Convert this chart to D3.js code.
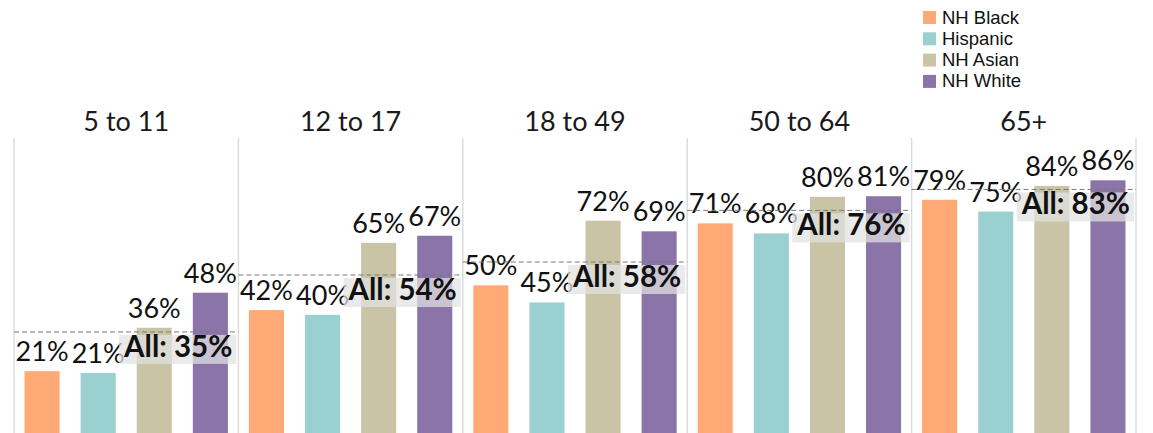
<!DOCTYPE html>
<html>
<head>
<meta charset="utf-8">
<script src="https://cdn.jsdelivr.net/npm/d3@7"></script>
<style>
  body { margin: 0; background: #fff; }
  svg { display: block; }
</style>
</head>
<body>
<script>
// data
const ageGroups = ["5 to 11", "12 to 17", "18 to 49", "50 to 64", "65+"];
const races = ["NH Black", "Hispanic", "NH Asian", "NH White"];
const nhBlack  = [21.3, 42.0, 50.4, 71.4, 79.4];
const hispanic = [20.7, 40.4, 44.6, 68.0, 75.4];
const nhAsian  = [36.0, 64.8, 72.3, 80.4, 84.1];
const nhWhite  = [47.9, 67.2, 68.7, 80.6, 86.0];
const allRates = [34.6, 53.9, 58.3, 75.8, 82.9];
const colors = ["#FFA976", "#9AD0D0", "#C9C4A6", "#8A74A8"];

const series = [nhBlack, hispanic, nhAsian, nhWhite];

const width = 1153, height = 433;

const svg = d3.select("body").append("svg")
    .attr("width", width)
    .attr("height", height);

// scales
const x0 = d3.scaleBand().domain(ageGroups).range([14, 1136]).padding(0);
const x1 = d3.scaleBand().domain(races).range([0, x0.bandwidth()])
    .paddingInner(0.375).paddingOuter(0.1875);
const y = d3.scaleLinear().domain([0, 100]).range([434, 139]);
const color = d3.scaleOrdinal().domain(races).range(colors);

// panel dividers
const dividers = ageGroups.map(g => x0(g)).concat([x0.range()[1]]);
svg.append("g").selectAll("line")
    .data(dividers)
    .enter().append("line")
    .attr("x1", d => d).attr("x2", d => d)
    .attr("y1", 138).attr("y2", height)
    .attr("stroke", "#dcdcdc")
    .attr("stroke-width", 1.5);

// panel titles
svg.append("g").selectAll("text")
    .data(ageGroups)
    .enter().append("text")
    .attr("x", d => x0(d) + x0.bandwidth() / 2)
    .attr("y", 131)
    .attr("text-anchor", "middle")
    .style("font-family", "Lato, 'Open Sans', sans-serif")
    .style("font-size", "27px")
    .attr("fill", "#1a1a1a")
    .text(d => d);

const panels = svg.append("g").selectAll("g")
    .data(ageGroups)
    .enter().append("g")
    .attr("transform", d => `translate(${x0(d)},0)`);

// bars
panels.selectAll("rect.bar")
    .data((g, i) => races.map((r, j) => ({ race: r, value: series[j][i] })))
    .enter().append("rect")
    .attr("class", "bar")
    .attr("x", d => x1(d.race))
    .attr("width", x1.bandwidth())
    .attr("y", d => y(d.value))
    .attr("height", d => y(0) - y(d.value))
    .attr("fill", d => color(d.race));

// value labels
panels.selectAll("text.val")
    .data((g, i) => races.map((r, j) => ({ race: r, value: series[j][i] })))
    .enter().append("text")
    .attr("class", "val")
    .attr("x", d => x1(d.race) + x1.bandwidth() / 2)
    .attr("y", d => y(d.value) - 10)
    .attr("text-anchor", "middle")
    .style("font-family", "Lato, 'Open Sans', sans-serif")
    .style("font-size", "27px")
    .attr("fill", "#111")
    .text(d => Math.round(d.value) + "%");

// average reference line
panels.append("line")
    .attr("x1", 0).attr("x2", x0.bandwidth())
    .attr("y1", (g, i) => y(allRates[i]))
    .attr("y2", (g, i) => y(allRates[i]))
    .attr("stroke", "#7a7a7a")
    .attr("stroke-width", 1)
    .attr("stroke-dasharray", "5,3");

// "All" label with shaded box
panels.each(function(g, i) {
    const p = d3.select(this);
    const ly = y(allRates[i]);
    const box = p.append("rect");
    const t = p.append("text")
        .attr("x", x0.bandwidth() - 6)
        .attr("y", ly + 25)
        .attr("text-anchor", "end")
        .style("font-family", "Lato, 'Open Sans', sans-serif")
        .style("font-size", "29.5px")
        .style("font-weight", "bold")
        .attr("fill", "#111")
        .text("All: " + Math.round(allRates[i]) + "%");
    const bb = t.node().getBBox();
    box.attr("x", bb.x - 4)
        .attr("width", bb.width + 8)
        .attr("y", ly + 3)
        .attr("height", 29)
        .attr("fill", "#e2e2e2")
        .attr("fill-opacity", 0.72);
});

// legend
const legend = svg.append("g").selectAll("g")
    .data(races)
    .enter().append("g")
    .attr("transform", (d, i) => `translate(923,${11 + i * 21.3})`);

legend.append("rect")
    .attr("width", 13).attr("height", 13)
    .attr("fill", d => color(d));

legend.append("text")
    .attr("x", 19)
    .attr("y", 12.5)
    .style("font-family", "'Liberation Sans', Arial, sans-serif")
    .style("font-size", "18.5px")
    .attr("fill", "#111")
    .text(d => d);
</script>
</body>
</html>
